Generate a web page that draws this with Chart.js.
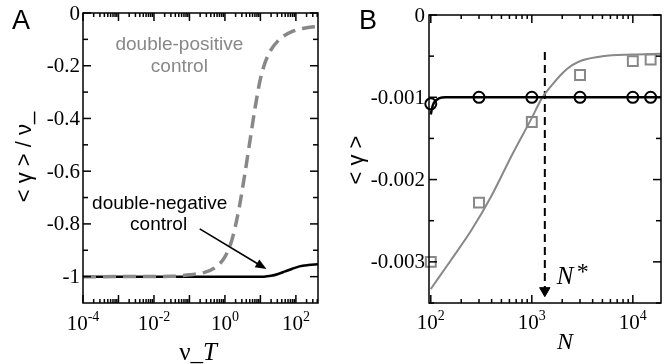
<!DOCTYPE html>
<html>
<head>
<meta charset="utf-8">
<script src="https://cdn.jsdelivr.net/npm/chart.js@4.4.1/dist/chart.umd.min.js"></script>
<style>
html, body { margin: 0; padding: 0; background: #fff; overflow: hidden; }
#wrap { position: relative; width: 670px; height: 364px; }
canvas { position: absolute; top: 0; }
#chartA { left: 0; }
#chartB { left: 335px; }
</style>
</head>
<body>
<div id="wrap">
<canvas id="chartA" width="335" height="364"></canvas>
<canvas id="chartB" width="335" height="364"></canvas>
</div>
<script>
// ---- panel A : <gamma>/nu_ against nu_T ----
var aNegX = [1e-4, 1, 12.6, 20, 31.6, 50.1, 79.4, 126, 224, 420];
var aNegY = [-1, -1, -1, -0.997, -0.99, -0.98, -0.97, -0.961, -0.956, -0.953];
var aPosX = [1e-4, 0.0316, 0.1, 0.251, 0.501, 1, 1.58, 2.51, 3.55, 5.01, 7.08, 10, 15.8, 31.6, 79.4, 200, 420];
var aPosY = [-1, -0.999, -0.993, -0.985, -0.968, -0.925, -0.86, -0.74, -0.62, -0.49, -0.36, -0.25, -0.165, -0.105, -0.07, -0.056, -0.05];
var aYTicks = [0, -0.2, -0.4, -0.6, -0.8, -1];
var aYTickLabels = ['0', '-0.2', '-0.4', '-0.6', '-0.8', '-1'];
var aYMinor = [-0.1, -0.3, -0.5, -0.7, -0.9];
var aXTickExp = [-4, -2, 0, 2];

// ---- panel B : <gamma> against N ----
var bN = [100, 300, 1000, 3000, 10000, 15000];
var bCircles = [-0.00108, -0.001, -0.001, -0.001, -0.001, -0.001];
var bSquares = [-0.003, -0.00228, -0.0013, -0.00073, -0.00056, -0.00054];
var bBlackX = [100, 103, 107, 112, 122, 140, 19000];
var bBlackY = [-0.00121, -0.00113, -0.00107, -0.00104, -0.00101, -0.001, -0.001];
var bGrayX = [100, 158, 251, 398, 631, 1000, 1259, 1585, 1995, 2512, 3162, 5012, 10000, 19000];
var bGrayY = [-0.00333, -0.00298, -0.00262, -0.0022, -0.00171, -0.00125, -0.00101, -0.00085, -0.00071, -0.00061, -0.00055, -0.0005, -0.00048, -0.00047];
var bNstar = 1345;
var bNstarY = [-0.00045, -0.00335];
var bYTicks = [0, -0.001, -0.002, -0.003];
var bYTickLabels = ['0', '-0.001', '-0.002', '-0.003'];
var bYMinor = [-0.0005, -0.0015, -0.0025, -0.0035];
var bXTickExp = [2, 3, 4];

var SERIF = "'Liberation Serif', 'Times New Roman', serif";
var SANS = "'Liberation Sans', Arial, sans-serif";
var GRAY = '#888888';

function toPoints(xs, ys) {
	return xs.map(function(x, i) {
		return { x : x, y : ys[i] };
	});
}

// frame, inner ticks on four sides, tick labels, titles
function makeAxesPlugin(opt) {
	return {
		id : 'axesFrame',
		afterDraw : function(chart) {
			var ctx = chart.ctx, area = chart.chartArea;
			var xs = chart.scales.x, ys = chart.scales.y;
			ctx.save();
			ctx.setLineDash([]);
			ctx.strokeStyle = '#000';
			ctx.fillStyle = '#000';
			ctx.lineWidth = 1.5;
			function seg(x1, y1, x2, y2) {
				ctx.beginPath();
				ctx.moveTo(x1, y1);
				ctx.lineTo(x2, y2);
				ctx.stroke();
			}
			ctx.strokeRect(area.left, area.top, area.right - area.left, area.bottom - area.top);
			opt.yTicks.forEach(function(v) {
				var p = ys.getPixelForValue(v);
				seg(area.left, p, area.left + 8, p);
				seg(area.right, p, area.right - 8, p);
			});
			opt.yMinor.forEach(function(v) {
				var p = ys.getPixelForValue(v);
				seg(area.left, p, area.left + 5, p);
				seg(area.right, p, area.right - 5, p);
			});
			var lo = Math.floor(Math.log10(xs.min)), hi = Math.ceil(Math.log10(xs.max));
			for (var d = lo; d <= hi; d++) {
				for (var k = 1; k <= 9; k++) {
					var v = k * Math.pow(10, d);
					if (v < xs.min * 0.999 || v > xs.max) continue;
					var p = xs.getPixelForValue(v);
					var len = (k == 1) ? 8 : 4;
					seg(p, area.bottom, p, area.bottom - len);
					seg(p, area.top, p, area.top + len);
				}
			}
			// y tick labels
			ctx.font = '21px ' + SERIF;
			ctx.textAlign = 'right';
			ctx.textBaseline = 'middle';
			opt.yTicks.forEach(function(v, i) {
				ctx.fillText(opt.yTickLabels[i], opt.yLabelRight, ys.getPixelForValue(v) + 1);
			});
			// x tick labels 10^n
			ctx.textAlign = 'left';
			ctx.textBaseline = 'alphabetic';
			opt.xTickExp.forEach(function(e) {
				var p = xs.getPixelForValue(Math.pow(10, e));
				ctx.font = '21px ' + SERIF;
				var w1 = ctx.measureText('10').width;
				ctx.font = '14px ' + SERIF;
				var w2 = ctx.measureText(String(e)).width;
				var x0 = p - (w1 + w2) / 2;
				ctx.font = '21px ' + SERIF;
				ctx.fillText('10', x0, opt.xLabelBase);
				ctx.font = '14px ' + SERIF;
				ctx.fillText(String(e), x0 + w1, opt.xLabelBase - 9);
			});
			// panel letter
			ctx.font = '27px ' + SANS;
			ctx.fillText(opt.letter, opt.letterX, 29);
			// y title
			ctx.save();
			ctx.translate(opt.yTitleX, opt.yTitleY);
			ctx.rotate(-Math.PI / 2);
			ctx.font = '22px ' + SANS;
			ctx.textAlign = 'center';
			ctx.textBaseline = 'middle';
			ctx.fillText(opt.yTitle, 0, 0);
			ctx.restore();
			// x title
			opt.drawXTitle(ctx);
			if (opt.extra) {
				opt.extra(chart, ctx);
			}
			ctx.restore();
		}
	};
}

function drawArrow(ctx, x1, y1, x2, y2, head, width) {
	var a = Math.atan2(y2 - y1, x2 - x1);
	ctx.beginPath();
	ctx.moveTo(x1, y1);
	ctx.lineTo(x2 - head * 0.8 * Math.cos(a), y2 - head * 0.8 * Math.sin(a));
	ctx.stroke();
	ctx.beginPath();
	ctx.moveTo(x2, y2);
	ctx.lineTo(x2 - head * Math.cos(a) + width * Math.sin(a), y2 - head * Math.sin(a) - width * Math.cos(a));
	ctx.lineTo(x2 - head * Math.cos(a) - width * Math.sin(a), y2 - head * Math.sin(a) + width * Math.cos(a));
	ctx.closePath();
	ctx.fill();
}

var chartA = new Chart(document.getElementById('chartA'), {
	type : 'line',
	data : {
		datasets : [ {
			label : 'double-positive control',
			data : toPoints(aPosX, aPosY),
			borderColor : GRAY,
			borderWidth : 3.5,
			borderDash : [ 13, 7 ],
			pointRadius : 0,
			cubicInterpolationMode : 'monotone',
			fill : false
		}, {
			label : 'double-negative control',
			data : toPoints(aNegX, aNegY),
			borderColor : '#000',
			borderWidth : 2.5,
			pointRadius : 0,
			cubicInterpolationMode : 'monotone',
			fill : false
		} ]
	},
	options : {
		responsive : false,
		animation : false,
		devicePixelRatio : 1,
		layout : {
			padding : { left : 83, top : 13, right : 17, bottom : 61 }
		},
		plugins : {
			legend : { display : false },
			tooltip : { enabled : false }
		},
		scales : {
			x : { type : 'logarithmic', min : 1e-4, max : 420, display : false },
			y : { type : 'linear', min : -1.1, max : 0, display : false }
		}
	},
	plugins : [ makeAxesPlugin({
		yTicks : aYTicks,
		yTickLabels : aYTickLabels,
		yMinor : aYMinor,
		xTickExp : aXTickExp,
		yLabelRight : 80,
		xLabelBase : 330,
		letter : 'A',
		letterX : 12,
		yTitle : '< \u03b3 > / \u03bd_',
		yTitleX : 25,
		yTitleY : 157,
		drawXTitle : function(ctx) {
			ctx.textAlign = 'left';
			ctx.textBaseline = 'alphabetic';
			ctx.font = '25px ' + SERIF;
			var w1 = ctx.measureText('\u03bd_').width;
			ctx.font = 'italic 25px ' + SERIF;
			var w2 = ctx.measureText('T').width;
			var x0 = 198 - (w1 + w2) / 2;
			ctx.font = '25px ' + SERIF;
			ctx.fillText('\u03bd_', x0, 360);
			ctx.font = 'italic 25px ' + SERIF;
			ctx.fillText('T', x0 + w1, 360);
		},
		extra : function(chart, ctx) {
			var xs = chart.scales.x, ys = chart.scales.y;
			ctx.textAlign = 'center';
			ctx.textBaseline = 'middle';
			ctx.font = '19px ' + SANS;
			ctx.fillStyle = GRAY;
			ctx.fillText('double-positive', xs.getPixelForValue(0.052), ys.getPixelForValue(-0.12));
			ctx.fillText('control', xs.getPixelForValue(0.052), ys.getPixelForValue(-0.204));
			ctx.fillStyle = '#000';
			ctx.fillText('double-negative', xs.getPixelForValue(0.0145), ys.getPixelForValue(-0.724));
			ctx.fillText('control', xs.getPixelForValue(0.0135), ys.getPixelForValue(-0.804));
			ctx.lineWidth = 1.6;
			drawArrow(ctx, xs.getPixelForValue(0.195), ys.getPixelForValue(-0.819),
					xs.getPixelForValue(14.8), ys.getPixelForValue(-0.971), 11, 4.5);
		}
	}) ]
});

var chartB = new Chart(document.getElementById('chartB'), {
	type : 'line',
	data : {
		datasets : [ {
			label : 'circles',
			data : toPoints(bN, bCircles),
			showLine : false,
			clip : false,
			pointStyle : 'circle',
			pointRadius : 5.5,
			pointBorderWidth : 2,
			pointBorderColor : '#000',
			pointBackgroundColor : 'rgba(0,0,0,0)'
		}, {
			label : 'squares',
			data : toPoints(bN, bSquares),
			showLine : false,
			clip : false,
			pointStyle : 'rect',
			pointRadius : 7,
			pointBorderWidth : 2,
			pointBorderColor : GRAY,
			pointBackgroundColor : 'rgba(0,0,0,0)'
		}, {
			label : 'black fit',
			data : toPoints(bBlackX, bBlackY),
			borderColor : '#000',
			borderWidth : 2.5,
			pointRadius : 0,
			cubicInterpolationMode : 'monotone'
		}, {
			label : 'gray fit',
			data : toPoints(bGrayX, bGrayY),
			borderColor : GRAY,
			borderWidth : 2,
			pointRadius : 0,
			cubicInterpolationMode : 'monotone'
		}, {
			label : 'N*',
			data : toPoints([ bNstar, bNstar ], bNstarY),
			borderColor : '#000',
			borderWidth : 2,
			borderDash : [ 8, 5 ],
			pointRadius : [ 0, 6 ],
			pointStyle : 'triangle',
			rotation : 180,
			pointBackgroundColor : '#000',
			pointBorderColor : '#000',
			pointBorderWidth : 1
		} ]
	},
	options : {
		responsive : false,
		animation : false,
		devicePixelRatio : 1,
		layout : {
			padding : { left : 94, top : 15, right : 9, bottom : 61 }
		},
		plugins : {
			legend : { display : false },
			tooltip : { enabled : false }
		},
		scales : {
			x : { type : 'logarithmic', min : 96, max : 19000, display : false },
			y : { type : 'linear', min : -0.0035, max : 0, display : false }
		}
	},
	plugins : [ makeAxesPlugin({
		yTicks : bYTicks,
		yTickLabels : bYTickLabels,
		yMinor : bYMinor,
		xTickExp : bXTickExp,
		yLabelRight : 90,
		xLabelBase : 329,
		letter : 'B',
		letterX : 24,
		yTitle : '< \u03b3 >',
		yTitleX : 22,
		yTitleY : 160,
		drawXTitle : function(ctx) {
			ctx.textAlign = 'center';
			ctx.textBaseline = 'alphabetic';
			ctx.font = 'italic 24px ' + SERIF;
			ctx.fillText('N', 230, 349);
		},
		extra : function(chart, ctx) {
			var xs = chart.scales.x, ys = chart.scales.y;
			var px = xs.getPixelForValue(bNstar);
			ctx.textAlign = 'left';
			ctx.textBaseline = 'alphabetic';
			ctx.font = 'italic 25px ' + SERIF;
			ctx.fillText('N', px + 12, ys.getPixelForValue(-0.00327));
			ctx.font = '24px ' + SERIF;
			ctx.fillText('*', px + 32, ys.getPixelForValue(-0.00321));
		}
	}) ]
});
</script>
</body>
</html>
